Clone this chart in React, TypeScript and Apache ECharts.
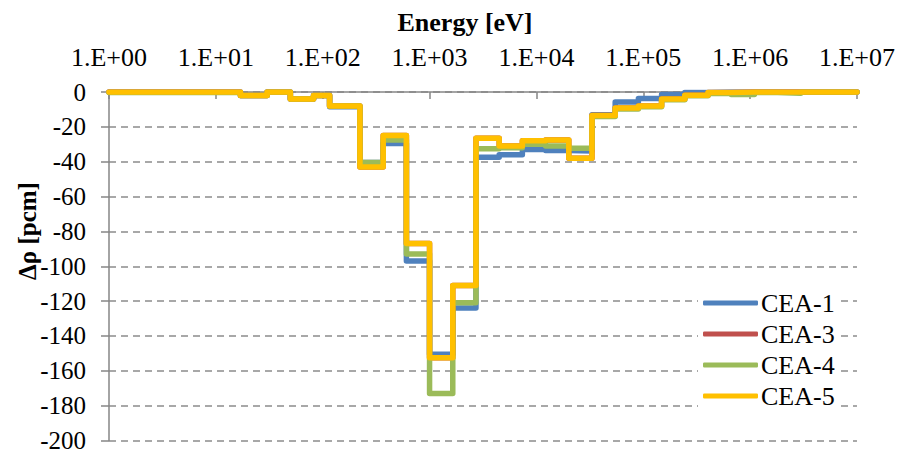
import React, { useEffect, useRef } from "react";
import * as echarts from "echarts";

// Energy group boundaries [eV]
const boundaries = [1, 17, 30.2, 49.8, 82.1, 116, 223, 368, 607, 1000, 1649, 2718, 4482, 7389, 12180, 20090, 33120, 54600, 90020, 148400, 244700, 403400, 665100, 1097000, 1809000, 2983000, 4919000, 8110000, 10000000];

// Δρ per group [pcm]
const cea1 = [0, -2, 0, -4, -2, -8.5, -40.5, -29.5, -97, -150.5, -124, -37.5, -36, -33, -33.6, -33.8, -13, -5.7, -3.8, -1.5, -0.3, 0, 0, 0, 0, 0, 0, 0];
const cea3 = [0, -2, 0, -4, -2, -8, -43, -25, -87, -152.5, -111, -26.5, -31, -28, -27.5, -38, -13.5, -9.2, -8, -4, -1.8, -0.3, 0, 0, 0, 0, 0, 0];
const cea4 = [-0.3, -2, 0, -4, -2, -8, -40.5, -27.5, -93, -173, -121, -32.5, -32, -30, -31, -32.3, -14, -9.7, -8.5, -4.5, -2.2, -0.8, -1.5, -0.3, -0.7, 0, 0, 0];
const cea5 = [0, -2, 0, -4, -2, -8, -43, -25, -87, -152.5, -111, -26.5, -31, -28, -27.5, -38, -13.5, -9.2, -8, -4, -1.8, -0.3, 0, 0, 0, 0, 0, 0];

const seriesNames = ["CEA-1", "CEA-3", "CEA-4", "CEA-5"];
const seriesColors = ["#4F81BD", "#C0504D", "#9BBB59", "#FFC000"];
const xTickLabels = ["1.E+00", "1.E+01", "1.E+02", "1.E+03", "1.E+04", "1.E+05", "1.E+06", "1.E+07"];

const FONT = "Liberation Serif";

function stepData(vals: number[]) {
  const pts: [number, number][] = [];
  for (let i = 0; i < vals.length; i++) pts.push([boundaries[i], vals[i]]);
  pts.push([boundaries[boundaries.length - 1], vals[vals.length - 1]]);
  return pts;
}

export default function App() {
  const ref = useRef<HTMLDivElement>(null);
  useEffect(() => {
    if (!ref.current) return;
    const chart = echarts.init(ref.current, null, { renderer: "svg" });
    const all = [cea1, cea3, cea4, cea5];
    chart.setOption({
      animation: false,
      backgroundColor: "#fff",
      textStyle: { fontFamily: FONT, color: "#000" },
      grid: { left: 109, right: 40, top: 92, bottom: 11, containLabel: false },
      graphic: [
        {
          type: "text",
          x: 465,
          y: 22,
          style: { text: "Energy [eV]", font: `bold 26px "${FONT}"`, fill: "#000", textAlign: "center", textVerticalAlign: "middle" },
        },
        {
          type: "text",
          x: 27,
          y: 231,
          rotation: Math.PI / 2,
          style: { text: "Δρ [pcm]", font: `bold 25px "${FONT}"`, fill: "#000", textAlign: "center", textVerticalAlign: "middle" },
        },
      ],
      xAxis: {
        type: "log",
        logBase: 10,
        min: 1,
        max: 10000000,
        splitNumber: 7,
        position: "top",
        axisLine: { show: true, onZero: false, lineStyle: { color: "#868686", width: 1.5 } },
        axisTick: { show: true, inside: true, length: 7, lineStyle: { color: "#868686", width: 1.5 } },
        splitLine: { show: false },
        minorTick: { show: false },
        axisLabel: {
          margin: 22,
          color: "#000",
          fontFamily: FONT,
          fontSize: 26,
          formatter: (v: number) => xTickLabels[Math.round(Math.log10(v))] ?? "",
        },
      },
      yAxis: {
        type: "value",
        min: -200,
        max: 0,
        interval: 20,
        axisLine: { show: true, lineStyle: { color: "#868686", width: 1.5 } },
        axisTick: { show: true, inside: false, length: 8, lineStyle: { color: "#868686", width: 1.5 } },
        splitLine: { show: true, lineStyle: { color: "#8c8c8c", width: 1.5, type: [7, 5] } },
        axisLabel: { margin: 23, color: "#000", fontFamily: FONT, fontSize: 25 },
      },
      legend: {
        orient: "vertical",
        left: 698,
        top: 285,
        padding: 5,
        itemGap: 5,
        itemWidth: 55,
        itemHeight: 5,
        icon: "roundRect",
        backgroundColor: "#fff",
        data: seriesNames,
        textStyle: { color: "#000", fontFamily: FONT, fontSize: 26, lineHeight: 26, padding: [0, 0, 0, -2] },
      },
      series: seriesNames.map((name, i) => ({
        name,
        type: "line",
        step: "end",
        showSymbol: false,
        symbol: "none",
        color: seriesColors[i],
        lineStyle: { width: 5.5, color: seriesColors[i], cap: "round", join: "round" },
        data: stepData(all[i]),
        z: 2 + i,
      })),
    });
    return () => chart.dispose();
  }, []);
  return <div ref={ref} style={{ position: "fixed", left: 0, top: 0, width: 898, height: 453 }} />;
}
